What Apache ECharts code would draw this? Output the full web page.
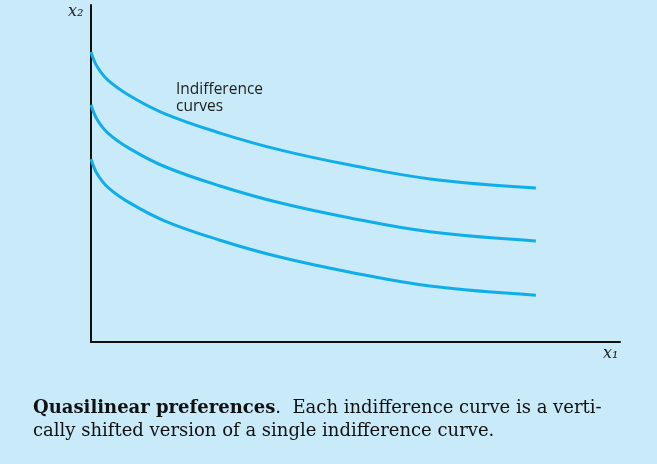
<!DOCTYPE html><html><head><meta charset="utf-8"><script src="https://cdn.jsdelivr.net/npm/echarts@6/dist/echarts.min.js"></script>
<style>html,body{margin:0;padding:0;background:#c9eaf9}#c{width:657px;height:464px}</style></head><body><div id="c"></div><script>
const xs=[0,1.1,3.2,7.4,14.0,24.4,35.7,49,64.1,84.1];
const topCurve=[86.1,81.9,77.7,73.0,67.7,62.0,57.0,52.5,48.4,45.7];
const midCurve=[70.4,66.2,62.0,57.3,52.0,46.3,41.3,36.8,32.7,30.0];
const lowCurve=[54.3,50.1,45.9,41.2,35.9,30.2,25.2,20.7,16.6,13.9];
const mk=a=>({type:'line',smooth:0.4,symbol:'none',data:xs.map((x,i)=>[x,a[i]]),lineStyle:{color:'#10aee9',width:3}});
const c=echarts.init(document.getElementById('c'));
c.setOption({backgroundColor:'#c9eaf9',animation:false,
grid:{left:91,top:5,right:37,bottom:122},
xAxis:{type:'value',min:0,max:100,axisLine:{lineStyle:{color:'#111',width:2}},axisTick:{show:false},axisLabel:{show:false},splitLine:{show:false}},
yAxis:{type:'value',min:0,max:100,axisLine:{show:true,lineStyle:{color:'#111',width:2}},axisTick:{show:false},axisLabel:{show:false},splitLine:{show:false}},
series:[mk(topCurve),mk(midCurve),mk(lowCurve)],
graphic:[
{type:'text',left:68,top:4,style:{text:'x₂',font:'italic 16px "DejaVu Serif"',fill:'#222'}},
{type:'text',left:603,top:346,style:{text:'x₁',font:'italic 16px "DejaVu Serif"',fill:'#222'}},
{type:'text',left:176,top:81,style:{text:'Indifference\ncurves',font:'15.5px "Open Sans"',lineHeight:17,fill:'#222'}},
{type:'text',left:33,top:399,style:{rich:{b:{font:'bold 18px "DejaVu Serif"',fill:'#111'},n:{font:'18px "DejaVu Serif"',fill:'#111'}},text:'{b|Quasilinear preferences}{n|.  Each indifference curve is a verti-}'}},
{type:'text',left:33,top:422,style:{text:'cally shifted version of a single indifference curve.',font:'18px "DejaVu Serif"',fill:'#111'}}
]});
</script></body></html>
